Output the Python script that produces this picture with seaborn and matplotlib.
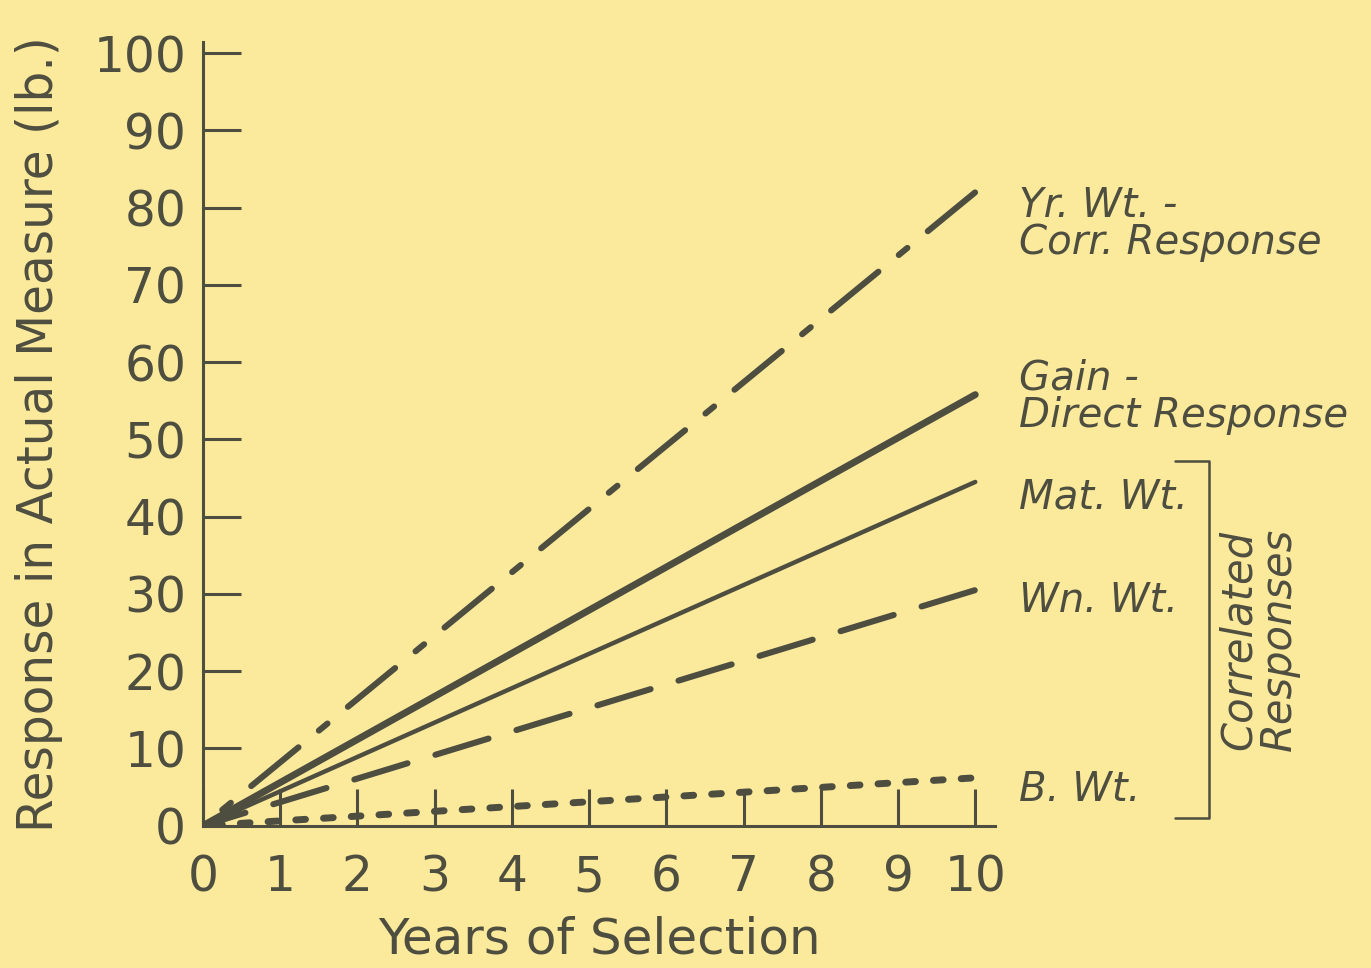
import matplotlib
matplotlib.use("Agg")
import matplotlib.pyplot as plt
import seaborn as sns
import pandas as pd

# data: straight lines from the origin to year 10
years = [0, 10]
yr_wt = [0, 82]
gain = [0, 55.8]
mat_wt = [0, 44.5]
wn_wt = [0, 30.5]
b_wt = [0, 6.2]

x_ticks = [0, 1, 2, 3, 4, 5, 6, 7, 8, 9, 10]
y_ticks = [0, 10, 20, 30, 40, 50, 60, 70, 80, 90, 100]

bg = "#fbea9c"
ink = "#4e4e40"

sns.set_style("ticks")
plt.rcParams['font.family'] = ['DejaVu Sans']
plt.rcParams['lines.scale_dashes'] = False

fig = plt.figure(figsize=(13.71, 9.68), dpi=100, facecolor=bg)
ax = fig.add_axes([0.148, 0.147, 0.578, 0.81])
ax.set_facecolor(bg)

# dash offsets chosen so each broken line ends on a dash at year 10
series = [
    (yr_wt, 4.4, (45, (44, 19, 8, 19))),
    (gain, 5.0, '-'),
    (mat_wt, 3.2, '-'),
    (wn_wt, 4.4, (8, (40, 21))),
    (b_wt, 5.0, (13, (7, 13))),
]
for vals, lw, ls in series:
    df = pd.DataFrame({"x": years, "y": vals})
    sns.lineplot(data=df, x="x", y="y", ax=ax, color=ink, linewidth=lw,
                 linestyle=ls, dash_capstyle='round', solid_capstyle='round')

ax.set_xlim(0, 10.26)
ax.set_ylim(0, 101.5)
ax.set_xticks(x_ticks)
ax.set_yticks(y_ticks)
ax.set_xticklabels([str(t) for t in x_ticks])
ax.set_yticklabels([str(t) for t in y_ticks])
ax.tick_params(axis='both', direction='in', length=27, width=2.2, color=ink,
               labelcolor=ink, labelsize=35)
ax.tick_params(axis='x', pad=20)
ax.tick_params(axis='y', pad=12)
for side in ['top', 'right']:
    ax.spines[side].set_visible(False)
for side in ['left', 'bottom']:
    ax.spines[side].set_color(ink)
    ax.spines[side].set_linewidth(2.2)

ax.set_xlabel("Years of Selection", fontsize=36, color=ink, labelpad=10)
ax.set_ylabel("Response in Actual Measure (lb.)", fontsize=35, color=ink)
ax.yaxis.set_label_coords(-0.176, 0.5)

# line labels on the right
lab = dict(fontsize=29, color=ink, style='italic',
           va='center', ha='left', clip_on=False, linespacing=0.95)
ax.text(10.56, 77.9, "Yr. Wt. -\nCorr. Response", **lab)
ax.text(10.56, 55.5, "Gain -\nDirect Response", **lab)
ax.text(10.56, 42.6, "Mat. Wt.", **lab)
ax.text(10.56, 29.2, "Wn. Wt.", **lab)
ax.text(10.56, 4.7, "B. Wt.", **lab)

# bracket for correlated responses
ax.plot([12.59, 13.02, 13.02, 12.59], [47.2, 47.2, 1.0, 1.0], color=ink,
        linewidth=1.8, clip_on=False)
ax.text(13.67, 24.1, "Correlated\nResponses", rotation=90, fontsize=30,
        color=ink, style='italic', ha='center', va='center',
        clip_on=False, linespacing=0.95)

fig.savefig("out.png", dpi=100, facecolor=bg)
